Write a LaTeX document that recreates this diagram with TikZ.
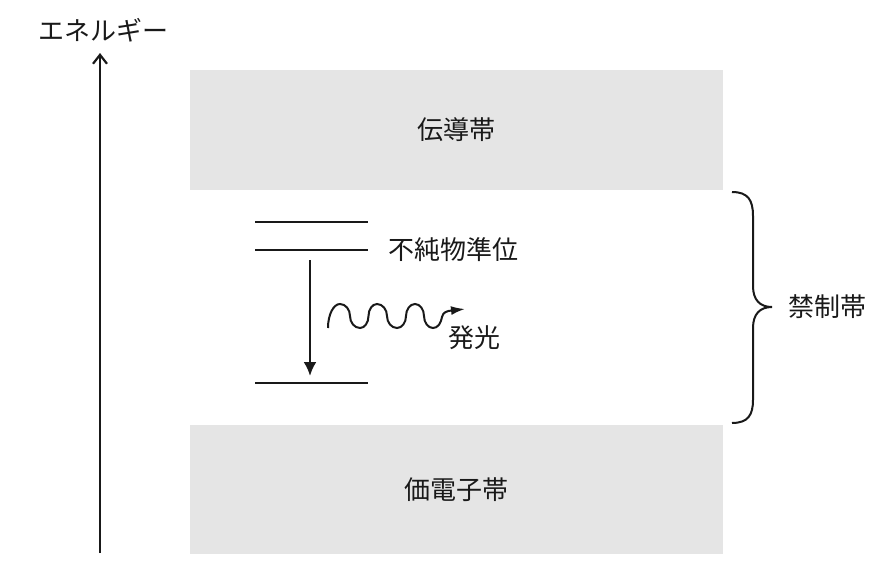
\documentclass[tikz,border=0pt]{standalone}
\usepackage{fontspec}
\newfontfamily\jp{Noto Sans CJK JP}
\usetikzlibrary{arrows.meta}
\definecolor{bandgray}{RGB}{229,229,229}
\definecolor{ink}{RGB}{25,25,25}
\begin{document}
\begin{tikzpicture}[x=1pt,y=-1pt,
  lbl/.style={text=ink,inner sep=0pt,font=\jp\fontsize{26}{30}\selectfont},
  band/.style={fill=bandgray,draw=none,inner sep=0pt,text=ink,font=\jp\fontsize{26}{30}\selectfont},
  lvl/.style={line width=2.5pt,draw=ink},
  axisarrow/.style={line width=2.4pt,draw=ink,-{Straight Barb[length=9pt,width=14pt,line width=2.2pt]}},
  droparrow/.style={line width=2.5pt,draw=ink,-{Latex[length=14pt,width=13pt]}},
  wavearrow/.style={line width=2pt,draw=ink,-{Latex[length=14pt,width=9pt]}},
  bracestyle/.style={line width=2pt,draw=ink}]
\useasboundingbox (0,0) rectangle (871,563);
% energy axis
\coordinate (ebot) at (100,553);
\coordinate (etop) at (100,53);
\draw[axisarrow] (ebot) -- (etop);
\node[lbl] (elabel) at (103,30) {エネルギー};
% bands
\node[band,minimum width=533pt,minimum height=120pt] (cb) at (456.5,130) {伝導帯};
\node[band,minimum width=533pt,minimum height=129pt] (vb) at (456.5,489.5) {価電子帯};
% impurity levels
\coordinate (l1a) at (255,222); \coordinate (l1b) at (368,222);
\coordinate (l2a) at (255,250); \coordinate (l2b) at (368,250);
\coordinate (l3a) at (255,383); \coordinate (l3b) at (368,383);
\draw[lvl] (l1a) -- (l1b);
\draw[lvl] (l2a) -- (l2b);
\draw[lvl] (l3a) -- (l3b);
\node[lbl,anchor=west] (imp) at (388,250) {不純物準位};
% transition
\coordinate (dtop) at (310,260);
\coordinate (dbot) at (310,376);
\draw[droparrow] (dtop) -- (dbot);
% emitted light
\coordinate (w0) at (328,328);
\coordinate (wtip) at (465,309);
\draw[wavearrow] (w0)
  .. controls (328,314.8) and (333.4,304) .. (340,304)
  .. controls (345.5,304) and (350,309.4) .. (350,316)
  .. controls (350,322.6) and (354.5,328) .. (360,328)
  .. controls (364.7,328) and (368.5,322.6) .. (368.5,316)
  .. controls (368.5,309.4) and (372.3,304) .. (377,304)
  .. controls (382.5,304) and (387,309.4) .. (387,316)
  .. controls (387,322.6) and (391.5,328) .. (397,328)
  .. controls (402,328) and (406,322.6) .. (406,316)
  .. controls (406,309.4) and (410,304) .. (415,304)
  .. controls (420,304) and (424,309.4) .. (424,316)
  .. controls (424,322.6) and (428,328) .. (433,328)
  .. controls (438,328) and (441,323) .. (442,317)
  .. controls (443,312) and (447,311) .. (wtip);
\node[lbl,anchor=west] (light) at (448,338) {発光};
% forbidden band brace
\coordinate (btop) at (732,192);
\coordinate (bmid) at (772,307);
\coordinate (bbot) at (732,423);
\draw[bracestyle] (btop) .. controls (748,192) and (753,200) .. (753,216) -- (753,286)
  .. controls (753,300) and (760,307) .. (bmid)
  .. controls (760,307) and (753,314) .. (753,328) -- (753,400)
  .. controls (753,415) and (748,423) .. (bbot);
\node[lbl,anchor=west] (gap) at (788,307) {禁制帯};
\end{tikzpicture}
\end{document}
